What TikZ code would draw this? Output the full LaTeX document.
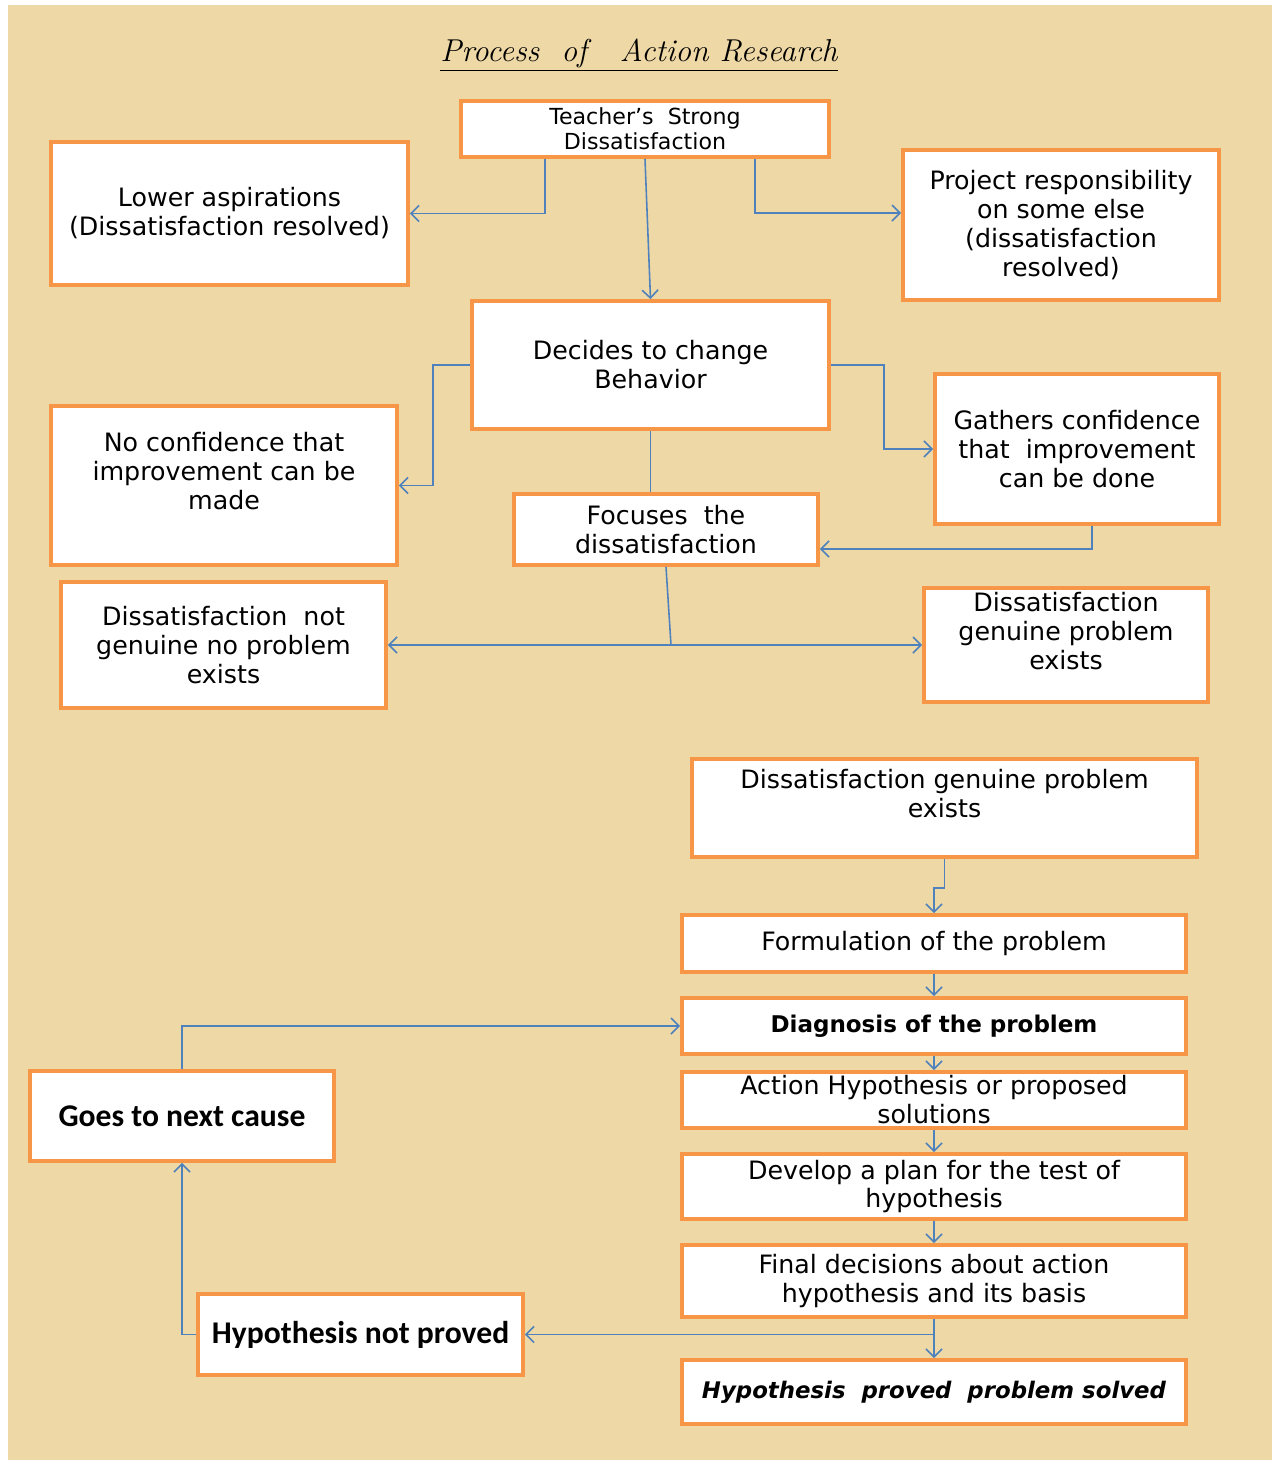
\documentclass[tikz,border=0pt]{standalone}
\usepackage{fontspec}
\setmainfont{DejaVu Sans}
\newfontfamily\calibfont{Carlito}
\newfontfamily\titlefont{Latin Modern Roman}
\usetikzlibrary{shapes,arrows,arrows.meta,positioning}
\definecolor{papyrus}{RGB}{238,216,166}
\definecolor{boxorange}{RGB}{247,150,70}
\definecolor{lineblue}{RGB}{79,129,189}
\tikzstyle{block} = [rectangle, draw=boxorange, line width=2.2pt, fill=white,
    align=center, inner sep=2pt, font=\fontsize{14.4}{16.5}\selectfont]
\tikzstyle{line} = [draw=lineblue, line width=0.9pt, -{Straight Barb[length=1.6mm,width=3.2mm]}]
\tikzstyle{plain} = [draw=lineblue, line width=0.9pt]

\begin{document}
\begin{tikzpicture}[x=0.02cm, y=-0.02cm]
		\useasboundingbox (0,0) rectangle (1274,1461);
		\fill [papyrus] (8,5) rectangle (1272,1460);
		\node (title) at (639,55) {\titlefont\itshape\fontsize{18}{22}\selectfont\underline{Process\ \ of\ \ \ Action Research}};
		% upper part
		\node [block, minimum width=7.36cm, minimum height=1.12cm, font=\fontsize{12.6}{14.2}\selectfont] (teacher) at (645,129) {Teacher’s\ \ Strong\\Dissatisfaction};
		\node [block, minimum width=7.14cm, minimum height=2.86cm] (lower) at (229.5,213.5) {Lower aspirations\\(Dissatisfaction resolved)};
		\node [block, minimum width=6.32cm, minimum height=3cm] (project) at (1061,225) {Project responsibility\\on some else\\(dissatisfaction\\resolved)};
		\node [block, minimum width=7.14cm, minimum height=2.56cm] (decides) at (650.5,365) {Decides to change\\Behavior};
		\node [block, minimum width=6.92cm, minimum height=3.18cm] (noconf) at (224,485.5) {No confidence that\\improvement can be\\made\\\mbox{}};
		\node [block, minimum width=5.68cm, minimum height=3cm] (gathers) at (1077,449) {Gathers confidence\\that\ \ improvement\\can be done};
		\node [block, minimum width=6.08cm, minimum height=1.42cm] (focuses) at (666,529.5) {Focuses\ \ the\\dissatisfaction};
		\node [block, minimum width=6.5cm, minimum height=2.52cm] (notgenuine) at (223.5,645) {Dissatisfaction\ \ not\\genuine no problem\\exists};
		\node [block, minimum width=5.68cm, minimum height=2.2cm] (genuine) at (1066,645) {Dissatisfaction\\genuine problem\\exists\\\mbox{}};
		% lower part
		\node [block, minimum width=10.1cm, minimum height=1.96cm] (problem) at (944.5,808) {Dissatisfaction genuine problem\\exists\\\mbox{}};
		\node [block, minimum width=10.08cm, minimum height=1.14cm] (formulation) at (934,943.5) {Formulation of the problem};
		\node [block, minimum width=10.08cm, minimum height=1.12cm, font=\bfseries\fontsize{13.1}{16}\selectfont] (diagnosis) at (934,1026) {Diagnosis of the problem};
		\node [block, minimum width=10.08cm, minimum height=1.12cm] (hypothesis) at (934,1100) {Action Hypothesis or proposed\\solutions};
		\node [block, minimum width=10.08cm, minimum height=1.3cm] (plan) at (934,1186.5) {Develop a plan for the test of\\hypothesis};
		\node [block, minimum width=10.08cm, minimum height=1.44cm] (final) at (934,1281) {Final decisions about action\\hypothesis and its basis};
		\node [block, minimum width=10.08cm, minimum height=1.28cm, font=\bfseries\itshape\fontsize{13}{16}\selectfont] (proved) at (934,1392) {Hypothesis\ \ proved\ \ problem solved};
		\node [block, minimum width=6.08cm, minimum height=1.8cm, font=\calibfont\bfseries\fontsize{18}{21}\selectfont] (nextcause) at (182,1116) {Goes to next cause};
		\node [block, minimum width=6.5cm, minimum height=1.62cm, font=\calibfont\bfseries\fontsize{18}{21}\selectfont] (notproved) at (360.5,1334.5) {Hypothesis not proved};
		\coordinate (split) at (671,645);
		\coordinate (branch) at (934,1334.5);

		\path [line] ([xshift=-2cm]teacher.south) |- (lower.east);
		\path [line] ([xshift=2.2cm]teacher.south) |- ([yshift=0.24cm]project.west);
		\path [line] (teacher.south) -- (decides.north);
		\path [line] (decides.west) -- ++(-0.74cm,0) |- (noconf.east);
		\path [line] (decides.east) -- ++(1.06cm,0) |- (gathers.west);
		\path [plain] (decides.south) -- (decides.south |- focuses.north);
		\path [line] ([xshift=0.3cm]gathers.south) |- ([yshift=-0.39cm]focuses.east);
		\path [plain] (focuses.south) -- (split);
		\path [line] (split) -- (notgenuine.east);
		\path [line] (split) -- (genuine.west);

		\path [line] (problem.south) -- ++(0,-0.58cm) -| (formulation.north);
		\path [line] (formulation) edge (diagnosis);
		\path [line] (diagnosis) edge (hypothesis);
		\path [line] (hypothesis) edge (plan);
		\path [line] (plan) edge (final);
		\path [line] (final) edge (proved);
		\path [line] (branch) -- (notproved.east);
		\path [line] (notproved.west) -| (nextcause.south);
		\path [line] (nextcause.north) |- (diagnosis.west);
	\end{tikzpicture}
\end{document}
